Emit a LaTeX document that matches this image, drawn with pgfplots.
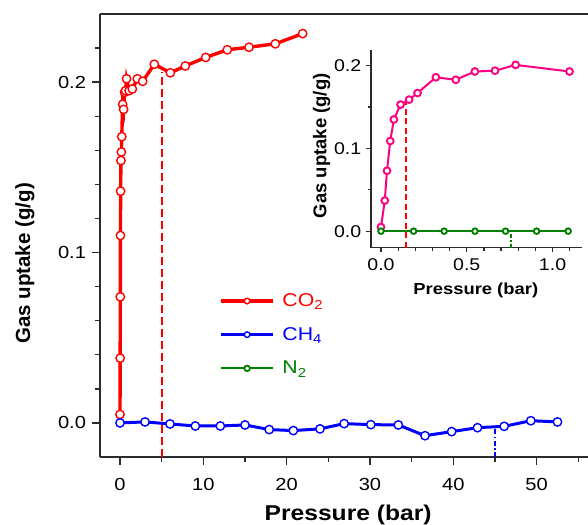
\documentclass[border=0pt]{standalone}
\usepackage{fontspec}
\setmainfont{Liberation Sans}[FakeStretch=1.15]
\newfontfamily\upright{Liberation Sans}
\usepackage{pgfplots}
\pgfplotsset{compat=1.18}
\definecolor{co2}{HTML}{FF0000}
\definecolor{ch4}{HTML}{0000FF}
\definecolor{ntwo}{HTML}{008000}
\definecolor{inpink}{HTML}{FF0080}
\definecolor{axgray}{HTML}{2B2B2B}

\begin{document}
\begin{tikzpicture}
\useasboundingbox (-100bp,-68bp) rectangle (488bp,457bp);
% main panel
\begin{axis}[
  at={(0bp,0bp)}, anchor=south west,
  scale only axis, width=488bp, height=443bp,
  xmin=-2.4, xmax=56.16, ymin=-0.02, ymax=0.24,
  axis x line*=box, axis y line*=left,
  xtick={0,10,20,30,40,50}, minor xtick={5,15,25,35,45,55},
  ytick={0,0.1,0.2}, minor ytick={0.02,0.04,0.06,0.08,0.12,0.14,0.16,0.18,0.22},
  tick align=outside, xtick pos=left, ytick pos=left,
  major tick length=7.5bp, minor tick length=4.5bp,
  tick style={axgray, line width=1.4bp},
  axis line style={axgray, line width=1.8bp},
  /pgf/number format/assume math mode=true,
  tick label style={font=\fontsize{17.5bp}{20bp}\selectfont},
  xticklabel style={yshift=-10bp},
  yticklabel style={xshift=-3bp, /pgf/number format/.cd, fixed, fixed zerofill, precision=1},
  xlabel={Pressure (bar)},
  ylabel={\upright Gas uptake (g/g)},
  xlabel style={at={(axis description cs:0.5085,0)}, anchor=base, yshift=-63bp,
    font=\fontsize{21.4bp}{24bp}\selectfont\bfseries},
  ylabel style={at={(axis description cs:-0.1434,0.437)}, anchor=base,
    font=\fontsize{20.5bp}{24bp}\selectfont\bfseries},
  legend style={at={(0.2443,0.2761)}, anchor=west, draw=none, fill=none,
    inner sep=0pt, row sep=15.6bp, column sep=5.6bp,
    font=\fontsize{18.5bp}{21bp}\selectfont,
    cells={anchor=west, inner sep=0pt, text height=12.6bp, text depth=0pt}},
  legend image code/.code={\draw[#1, mark repeat=2, mark phase=2, mark size=2.8bp]
    plot coordinates {(0bp,0bp)(26bp,0bp)(52bp,0bp)};},
]
\addplot[co2, line width=2bp, dash pattern=on 8bp off 4bp, forget plot]
  coordinates {(5,-0.02)(5,0.206)};
\addplot[ch4, line width=2bp, dash pattern=on 5bp off 2.5bp on 1.5bp off 2.5bp, forget plot]
  coordinates {(45,-0.02)(45,-0.0025)};
\addplot[co2, line width=3.4bp, mark=*, mark size=4.2bp,
  mark options={solid, fill=white, draw=co2, line width=1.4bp}]
  coordinates {(0.00,0.005)(0.02,0.038)(0.035,0.074)(0.054,0.110)(0.075,0.136)
  (0.114,0.154)(0.164,0.159)(0.213,0.168)(0.32,0.187)(0.436,0.184)(0.547,0.194)
  (0.665,0.195)(0.785,0.202)(1.10,0.195)(1.48,0.196)(2.08,0.202)(2.72,0.2005)
  (4.12,0.2105)(6.04,0.2055)(7.84,0.2095)(10.28,0.2145)(12.88,0.219)(15.48,0.2205)
  (18.64,0.2225)(21.92,0.2285)};
\addplot[ch4, line width=3bp, mark=*, mark size=4.2bp,
  mark options={solid, fill=white, draw=ch4, line width=1.4bp}]
  coordinates {(0,0)(3.0,0.0006)(6.0,-0.0006)(9.04,-0.0018)(12.04,-0.0018)
  (15.0,-0.0012)(17.9,-0.0039)(20.8,-0.0045)(24.0,-0.0035)(26.9,-0.0004)
  (30.1,-0.001)(33.4,-0.0012)(36.6,-0.0075)(39.8,-0.0051)(42.9,-0.0028)
  (46.1,-0.002)(49.3,0.0013)(52.5,0.0006)};
\addlegendimage{ntwo, line width=2bp, mark=*, mark size=2.2bp,
  mark options={solid, fill=white, draw=ntwo, line width=1.8bp}}
\legend{\textcolor{co2}{CO\textsubscript{2}},\textcolor{ch4}{CH\textsubscript{4}},\textcolor{ntwo}{N\textsubscript{2}}}
\end{axis}
% inset
\begin{axis}[
  at={(270.7bp,209.3bp)}, anchor=south west,
  scale only axis, width=211bp, height=197.7bp,
  xmin=-0.06, xmax=1.17, ymin=-0.02, ymax=0.219,
  axis lines*=left,
  xtick={0,0.5,1}, minor xtick={0.1,0.2,0.3,0.4,0.6,0.7,0.8,0.9,1.1},
  ytick={0,0.1,0.2}, minor ytick={0.05,0.15},
  tick align=outside,
  major tick length=4.5bp, minor tick length=3bp,
  tick style={axgray, line width=1.3bp},
  axis line style={axgray, line width=1.6bp},
  /pgf/number format/assume math mode=true,
  /pgf/number format/fixed, /pgf/number format/fixed zerofill,
  /pgf/number format/precision=1,
  tick label style={font=\fontsize{17bp}{20bp}\selectfont},
  xticklabel style={yshift=-2.5bp},
  yticklabel style={xshift=-1.5bp},
  xlabel={Pressure (bar)},
  ylabel={\upright Gas uptake (g/g)},
  xlabel style={at={(axis description cs:0.498,0)}, anchor=base, yshift=-46.5bp,
    font=\fontsize{16bp}{19bp}\selectfont\bfseries},
  ylabel style={at={(axis description cs:-0.2095,0.515)}, anchor=base,
    font=\fontsize{18.5bp}{22bp}\selectfont\bfseries},
]
\addplot[co2, line width=1.8bp, dash pattern=on 6bp off 3.5bp]
  coordinates {(0.145,-0.02)(0.145,0.155)};
\addplot[ntwo, line width=1.8bp, dash pattern=on 4bp off 2bp on 1.5bp off 2bp]
  coordinates {(0.756,-0.02)(0.756,0)};
\addplot[inpink, line width=2bp, mark=*, mark size=3.4bp,
  mark options={solid, fill=white, draw=inpink, line width=1.9bp}]
  coordinates {(0.0,0.005)(0.022,0.037)(0.035,0.073)(0.054,0.109)(0.075,0.135)
  (0.114,0.153)(0.164,0.159)(0.213,0.167)(0.32,0.186)(0.436,0.183)(0.547,0.193)
  (0.665,0.194)(0.785,0.201)(1.099,0.193)};
\addplot[ntwo, line width=2bp, mark=*, mark size=2.8bp,
  mark options={solid, fill=white, draw=ntwo, line width=1.9bp}]
  coordinates {(0,0)(0.19,0)(0.368,0)(0.548,0)(0.726,0)(0.907,0)(1.091,0)};
\end{axis}
\end{tikzpicture}
\end{document}
